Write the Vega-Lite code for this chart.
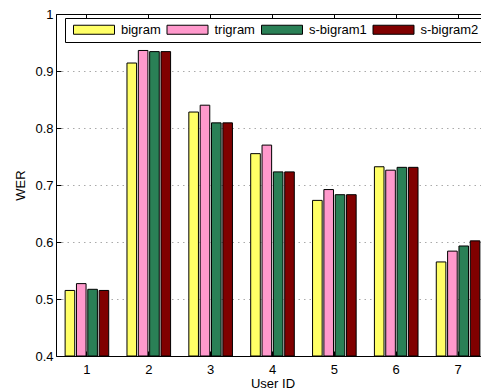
{
  "$schema": "https://vega.github.io/schema/vega-lite/v6.json",
  "autosize": {"type": "none"},
  "padding": {"left": 56, "top": 14, "right": 0, "bottom": 34},
  "width": 425,
  "height": 342,
  "background": "white",
  "config": {
    "view": {"stroke": null},
    "font": "Liberation Sans",
    "axis": {
      "labelFont": "Liberation Sans",
      "titleFont": "Liberation Sans",
      "labelFontSize": 13,
      "titleFontSize": 13,
      "titleFontWeight": "normal",
      "labelColor": "black",
      "titleColor": "black",
      "domainColor": "black",
      "tickColor": "black",
      "domainWidth": 1,
      "tickWidth": 1
    }
  },
  "data": {
    "values": [
      {"user": 1, "model": "bigram", "wer": 0.515},
      {"user": 1, "model": "trigram", "wer": 0.527},
      {"user": 1, "model": "s-bigram1", "wer": 0.517},
      {"user": 1, "model": "s-bigram2", "wer": 0.515},
      {"user": 2, "model": "bigram", "wer": 0.914},
      {"user": 2, "model": "trigram", "wer": 0.936},
      {"user": 2, "model": "s-bigram1", "wer": 0.934},
      {"user": 2, "model": "s-bigram2", "wer": 0.934},
      {"user": 3, "model": "bigram", "wer": 0.828},
      {"user": 3, "model": "trigram", "wer": 0.840},
      {"user": 3, "model": "s-bigram1", "wer": 0.809},
      {"user": 3, "model": "s-bigram2", "wer": 0.809},
      {"user": 4, "model": "bigram", "wer": 0.755},
      {"user": 4, "model": "trigram", "wer": 0.770},
      {"user": 4, "model": "s-bigram1", "wer": 0.723},
      {"user": 4, "model": "s-bigram2", "wer": 0.723},
      {"user": 5, "model": "bigram", "wer": 0.673},
      {"user": 5, "model": "trigram", "wer": 0.692},
      {"user": 5, "model": "s-bigram1", "wer": 0.683},
      {"user": 5, "model": "s-bigram2", "wer": 0.683},
      {"user": 6, "model": "bigram", "wer": 0.732},
      {"user": 6, "model": "trigram", "wer": 0.726},
      {"user": 6, "model": "s-bigram1", "wer": 0.731},
      {"user": 6, "model": "s-bigram2", "wer": 0.731},
      {"user": 7, "model": "bigram", "wer": 0.565},
      {"user": 7, "model": "trigram", "wer": 0.584},
      {"user": 7, "model": "s-bigram1", "wer": 0.593},
      {"user": 7, "model": "s-bigram2", "wer": 0.602}
    ]
  },
  "resolve": {"axis": {"x": "independent"}},
  "layer": [
    {
      "mark": {"type": "bar", "stroke": "black", "strokeWidth": 1},
      "encoding": {
        "x": {
          "field": "user",
          "type": "ordinal",
          "scale": {"range": [0, 433], "paddingInner": 0.295, "paddingOuter": 0.1475},
          "axis": {
            "title": "User ID",
            "labelAngle": 0,
            "tickSize": -5,
            "labelPadding": 12,
            "titlePadding": 1,
            "domain": true
          }
        },
        "xOffset": {
          "field": "model",
          "type": "nominal",
          "sort": ["bigram", "trigram", "s-bigram1", "s-bigram2"],
          "scale": {"paddingInner": 0.153, "paddingOuter": 0}
        },
        "y": {
          "field": "wer",
          "type": "quantitative",
          "scale": {"domain": [0.4, 1], "zero": false, "nice": false},
          "axis": {
            "title": "WER",
            "values": [0.4, 0.5, 0.6, 0.7, 0.8, 0.9, 1.0],
            "format": ".1~f",
            "tickSize": -5,
            "labelPadding": 8,
            "titlePadding": 7,
            "grid": true,
            "gridColor": "#aaaaaa",
            "gridDash": [1.5, 4],
            "gridWidth": 1
          }
        },
        "y2": {"datum": 0.4},
        "color": {
          "field": "model",
          "type": "nominal",
          "scale": {
            "domain": ["bigram", "trigram", "s-bigram1", "s-bigram2"],
            "range": ["#ffff66", "#ff99cc", "#2a8056", "#800000"]
          },
          "legend": {
            "title": null,
            "orient": "none",
            "legendX": 9,
            "legendY": 4,
            "direction": "horizontal",
            "padding": 5,
            "columnPadding": 2.5,
            "strokeColor": "black",
            "fillColor": "white",
            "labelFont": "Liberation Sans",
            "labelFontSize": 13,
            "labelColor": "black",
            "symbolType": "M-1,-0.22H1V0.22H-1Z",
            "symbolSize": 1681,
            "symbolStrokeColor": "black",
            "symbolStrokeWidth": 1,
            "symbolOffset": 3,
            "labelOffset": 6,
            "clipHeight": 13
          }
        }
      }
    },
    {
      "mark": {"type": "point", "opacity": 0},
      "encoding": {
        "x": {
          "field": "user",
          "type": "ordinal",
          "axis": {
            "orient": "top",
            "title": null,
            "labels": false,
            "tickSize": -5,
            "domain": true
          }
        },
        "y": {"field": "wer", "type": "quantitative"}
      }
    }
  ]
}
